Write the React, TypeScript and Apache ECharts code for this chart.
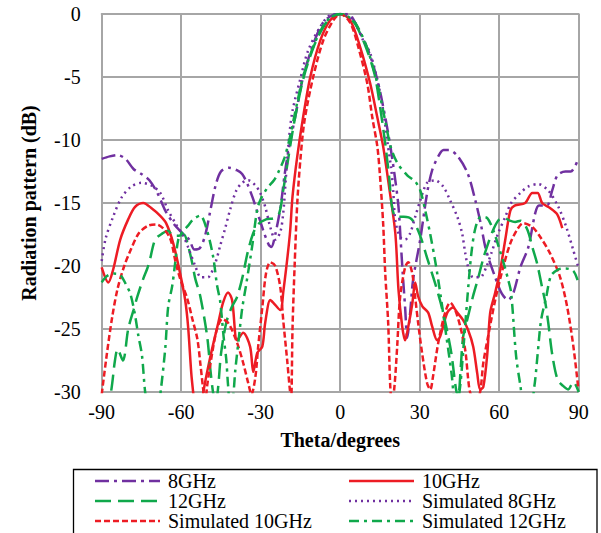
import React, { useEffect, useRef } from "react";
import * as echarts from "echarts";

const FONT = "'Liberation Serif', 'Times New Roman', serif";
const PURPLE = "#7030A0";
const RED = "#ED1C24";
const GREEN = "#10A84B";

const xTicks = [-90, -60, -30, 0, 30, 60, 90];
const yTicks = [0, -5, -10, -15, -20, -25, -30];

// [theta (deg), level (dB)]
const meas8: number[][] = [
  [-90, -11.5], [-87, -11.3], [-84, -11.2], [-81, -11.5], [-78, -12.3], [-75, -12.7], [-72, -13.2],
  [-69, -14.2], [-66, -15.6], [-63, -16.6], [-60, -17.3], [-57, -17.9], [-55, -18.7], [-53, -18.6],
  [-51, -17.6], [-49, -15.6], [-47, -13.6], [-45, -12.5], [-42, -12.2], [-39, -12.4], [-37, -12.7],
  [-35, -13.5], [-33, -14.6], [-31, -15.9], [-29, -17.2], [-27, -18.3], [-26, -18.5], [-24.5, -17.5],
  [-22.5, -15.3], [-21, -12.8], [-19.5, -10.8], [-17, -8.2], [-14, -5.0], [-10, -2.3], [-6.5, -0.7],
  [-3, -0.1], [0, 0], [2, 0], [4, -0.1], [7.5, -1.5], [10.6, -2.9], [14, -5.2], [17, -8.2], [19, -10.6],
  [20.8, -13.2], [22, -15.3], [22.8, -17.9], [23.6, -20.6], [24.5, -23.3], [25.3, -25.7], [26.4, -23.7],
  [27.5, -21.1], [30.2, -17.9], [32.8, -14.2], [34.7, -12.4], [37, -11.3], [39, -10.8], [41, -10.8],
  [44, -11.2], [48, -12.6], [51, -14.8], [53, -16.6], [55, -18.7], [58.5, -20.9], [61, -22.2],
  [63.4, -22.7], [65, -22.3], [66, -21.7], [68, -20.1], [71, -18.5], [73.6, -15.8], [75, -15.2],
  [78, -15.2], [80, -14.0], [82, -12.8], [85, -12.5], [87, -12.5], [90, -11.4],
];

const meas10: number[][] = [
  [-90, -20.1], [-87.5, -21.3], [-85.7, -20.3], [-83, -17.9], [-80, -16.3], [-77.4, -15.3], [-74.3, -15.0],
  [-71.3, -15.4], [-68, -16.0], [-65.7, -16.6], [-63, -18.2], [-60.4, -20.6], [-58.5, -22.7], [-57.4, -24.8],
  [-56.2, -28.5], [-55.5, -30], [-54, -33], [-52.5, -32], [-51.7, -30.1], [-49, -27.2], [-46, -24.5],
  [-44.2, -22.9], [-42.3, -22.1], [-40.8, -22.7], [-38.9, -25.9], [-36.6, -25.3], [-34, -26.4],
  [-32.8, -28.4], [-31.3, -26.9], [-29.4, -26.4], [-28.3, -24.5], [-26.4, -22.7], [-25.3, -22.9],
  [-22.6, -23.5], [-21.5, -22.1], [-19, -17.5], [-18, -14.5], [-16.2, -11.3], [-14, -8.2], [-11.3, -5],
  [-7.5, -2.1], [-3.8, -0.5], [0, 0], [3.8, -0.5], [7.5, -2.6], [11.3, -5.5], [14, -8.2], [16.2, -10.5],
  [18.5, -13.8], [20.8, -17.4], [22, -21.9], [23.4, -24.8], [24.5, -25.9], [25.7, -24.8], [27.2, -23],
  [28.3, -21.3], [29.4, -22.4], [31, -23.2], [33.2, -23.7], [34.7, -24.8], [36.6, -25.9], [37.7, -25.6],
  [40.4, -23.7], [42.6, -23.3], [44.2, -23.7], [46.4, -24.3], [48.3, -25.1], [50.2, -26.4], [51.7, -28.5],
  [52.8, -29.8], [54, -29.6], [55.5, -27], [56.6, -23.7], [58.5, -22.1], [60.4, -20.3], [62.3, -17.9],
  [64.2, -15.6], [65.8, -15.2], [69.8, -15.0], [72.5, -14.2], [74.5, -14.2], [76.2, -15], [79.2, -15.4],
  [81.9, -15.9], [83.8, -17.0],
];

const meas12: number[][] = [
  [-90, -31.5], [-88, -31], [-86.5, -30], [-85, -27.5], [-84, -26.6], [-82, -27.5], [-80, -25],
  [-78, -23.5], [-76.5, -22.4], [-74.3, -21], [-72.8, -20.2], [-71.7, -19.4], [-69.8, -17.9],
  [-67, -17.4], [-65, -17.2], [-63, -17.6], [-61, -17.6], [-59, -17.5], [-57.4, -18.4], [-55.8, -19.8],
  [-54.7, -21], [-52.8, -22.4], [-50.2, -25.6], [-49, -28.2], [-48, -30], [-47, -31], [-46, -29.5],
  [-45, -27], [-43, -24.5], [-41, -23.3], [-39, -22.5], [-37, -21], [-35, -19], [-33, -17.5],
  [-31, -16.7], [-28, -16.3], [-25, -16.2], [-23, -15.8], [-21.5, -14], [-20, -12], [-18.5, -10],
  [-17, -8.2], [-14, -5.2], [-10, -2.6], [-6, -0.9], [-3, -0.2], [0, 0], [3, -0.2], [6, -0.9],
  [10, -2.8], [13, -4.8], [15, -7.3], [17, -10.3], [18.5, -13], [19.5, -15.2], [21, -16.1], [24, -16.1],
  [27, -16.3], [30, -17.5], [33, -19.5], [36, -21.5], [38, -23], [40, -24.8], [42, -27], [43.5, -29.5],
  [44.5, -30.5], [45.5, -28], [46.4, -25.6], [48, -24.2], [50, -22.5], [52, -21], [54, -19.4],
  [56, -18.1], [58, -17], [60, -16.3], [62, -16.2], [64, -16.4], [66, -16.5], [68, -16.4], [70.6, -17.1],
  [72.5, -18.5], [74.3, -19.8], [76.2, -21.7], [77.4, -22.9], [78.5, -24.5], [80, -27], [82, -29],
  [84, -29.5], [86, -29.8], [88, -29.2], [90, -30],
];

const sim8: number[][] = [
  [-90, -19.6], [-88.5, -17.8], [-85.7, -16.1], [-82.6, -14.6], [-78.9, -13.7], [-75, -13.4],
  [-71.3, -13.6], [-67.9, -14.2], [-64.9, -15.6], [-61.9, -16.7], [-59.2, -17.6], [-57.4, -18.5],
  [-54.7, -20.0], [-52.5, -20.9], [-50, -20.9], [-47.2, -19.8], [-45.3, -18.4], [-43.4, -17.0],
  [-41.5, -15.5], [-39.2, -14.0], [-37, -13.4], [-34.7, -13.2], [-32, -13.6], [-30.2, -14.2],
  [-28.3, -15.3], [-26.4, -16.9], [-24.5, -17.9], [-22.6, -17.3], [-21.5, -15.8], [-20.5, -13],
  [-19.6, -10.5], [-18.1, -7.8], [-15.1, -5.2], [-12.1, -2.9], [-7.5, -1.0], [-3.8, -0.1], [1, 0],
  [5, -0.5], [8.7, -2.1], [11.3, -3.1], [14.3, -5.5], [16.2, -7.6], [17.7, -10], [19.2, -12.2],
  [20, -14], [20.8, -16.4], [22.6, -17.7], [24.5, -17.9], [26.4, -17.4], [28.3, -16.1], [30.2, -14.8],
  [32.8, -13.4], [35.8, -13.2], [38.9, -13.7], [41.5, -14.8], [44.2, -16.1], [46, -17.4], [47.2, -19],
  [48.3, -20.1], [50.2, -20.9], [52.8, -20.9], [55.1, -20.1], [57, -19], [59.6, -17.4], [62.3, -16.1],
  [64.5, -15], [68, -14.2], [70.9, -13.7], [74.7, -13.5], [78.5, -14], [82.3, -15.3], [85.3, -16.9],
  [87.9, -18.7], [90, -20.2],
];

const sim10: number[][] = [
  [-90, -30.2], [-88, -26.9], [-86, -24], [-84, -21.8], [-81.5, -20], [-79, -18.7], [-76, -17.4],
  [-72.5, -16.8], [-69.4, -16.7], [-66.4, -17.1], [-64, -17.9], [-62, -19.8], [-60.4, -21],
  [-57.7, -22.6], [-55.8, -24.2], [-53.9, -25.8], [-52.8, -27.7], [-51.7, -29.8], [-51, -31],
  [-50.2, -29.5], [-48.3, -26.9], [-46.5, -25], [-44.5, -24.2], [-42, -24.6], [-38.9, -26.1],
  [-36.6, -27.7], [-34.7, -29.3], [-33.5, -30.2], [-32, -28.8], [-31, -26.5], [-29.4, -23.3],
  [-28, -20.6], [-26.4, -19.7], [-24.5, -20.0], [-22.6, -21.7], [-21.5, -24.3], [-20, -27.5],
  [-19, -29.8], [-18.5, -30.5], [-18, -25], [-17.2, -20], [-16.2, -15], [-15, -11.5], [-13.5, -8.5],
  [-10.2, -5], [-6.4, -2.1], [-2.6, -0.5], [0, 0], [3.8, -0.7], [6.8, -2.6], [10.2, -5.5], [12.1, -8.2],
  [14, -10.5], [15, -12.8], [16.2, -16.6], [17, -20.6], [18.1, -24.5], [18.9, -29.6], [19.6, -31],
  [20.5, -29.5], [21.5, -26.4], [22.6, -22.5], [24.5, -20.1], [25.7, -19.7], [27.2, -20.6], [28.3, -22.5],
  [29.4, -24.5], [30.9, -26.9], [32.8, -29.3], [34, -29.8], [35, -28.8], [37, -26.1], [39.6, -23.7],
  [41.5, -22.9], [43.4, -23.5], [45.3, -24.8], [47.2, -26.7], [48.3, -29], [49, -30], [51, -31],
  [52.8, -30], [54, -27.7], [55.8, -25.6], [58.5, -22.7], [61.5, -20.1], [64.2, -18.2], [66.8, -17.1],
  [69, -16.6], [72.5, -16.9], [75.5, -17.7], [79.2, -19], [83, -20.9], [85.7, -23.3], [88, -26.4],
  [89.8, -29.6],
];

const sim12: number[][] = [
  [-90, -21.3], [-88, -20.8], [-85.5, -20.6], [-83, -20.7], [-81, -21.4], [-79.2, -22.2], [-77.5, -23.8],
  [-76.2, -25.5], [-74.8, -27.1], [-73.6, -30], [-72, -32], [-70, -32], [-68.5, -31], [-67.6, -29.7],
  [-66, -26.5], [-64.9, -23.2], [-63.4, -21.6], [-62.3, -19.8], [-61.1, -17.9], [-59.6, -17.3],
  [-57.4, -16.8], [-55.5, -16.3], [-52.8, -16.0], [-50.5, -17], [-48, -19.2], [-46.5, -21.5],
  [-45.3, -22.8], [-44, -25.6], [-43, -27.4], [-42.3, -29.5], [-41.5, -31], [-40.5, -30.5],
  [-39.6, -28.3], [-38.3, -25.8], [-37, -23.4], [-35.5, -21.5], [-33.2, -18.4], [-31.3, -15.5],
  [-30, -14.7], [-27.5, -13.8], [-25, -13.2], [-23, -12.4], [-21, -11.4], [-19, -9.8], [-17, -7.8],
  [-14, -5.0], [-10, -2.5], [-6, -0.8], [-3, -0.2], [0, 0], [3, -0.2], [6, -0.8], [10, -2.6], [14, -5.5],
  [17, -8.5], [19, -10.5], [21.5, -11.8], [25.3, -12.8], [28.3, -13.3], [30.2, -14], [32, -15.5],
  [34, -17.5], [36, -19.8], [38, -22.5], [40, -25.5], [42, -28.5], [43.5, -31], [45, -30], [46.5, -26.5],
  [48, -22.5], [49.5, -19], [51, -17], [53, -16.1], [55.5, -16.2], [58, -17.3], [60, -18.6], [62, -20],
  [63.4, -21.1], [64.5, -22.1], [66.4, -27.2], [68, -29.5], [69.5, -31.5], [71.5, -31.5], [73.3, -29.5],
  [74.5, -27], [75.8, -24.3], [77.7, -22.5], [79.5, -20.8], [82, -20.3], [85, -20.2], [88, -20.4],
  [90, -21.4],
];

const seriesDefs = [
  { name: "8GHz", data: meas8, color: PURPLE, dash: [14, 5, 3, 5] },
  { name: "10GHz", data: meas10, color: RED, dash: null as number[] | null },
  { name: "12GHz", data: meas12, color: GREEN, dash: [16, 7] },
  { name: "Simulated 8GHz", data: sim8, color: PURPLE, dash: [2, 4] },
  { name: "Simulated 10GHz", data: sim10, color: RED, dash: [6, 3] },
  { name: "Simulated 12GHz", data: sim12, color: GREEN, dash: [10, 5, 3, 5] },
];

const GRIDC = "#a6a6a6";

export default function App() {
  const ref = useRef<HTMLDivElement>(null);
  useEffect(() => {
    document.body.style.margin = "0";
    if (!ref.current) return;
    const chart = echarts.init(ref.current, undefined, { renderer: "svg" });

    // manual legend (two columns, three rows)
    const colX = [95, 349];
    const rowY = [481, 501, 521];
    const legendEls: any[] = [];
    seriesDefs.forEach((s, i) => {
      const x0 = colX[i % 2];
      const y0 = rowY[Math.floor(i / 2)];
      legendEls.push({
        type: "line",
        shape: { x1: x0, y1: y0, x2: x0 + 65, y2: y0 },
        style: { stroke: s.color, lineWidth: 2.5, lineDash: s.dash || undefined },
        silent: true,
      });
      legendEls.push({
        type: "text",
        x: x0 + 73,
        y: y0,
        style: {
          text: s.name,
          fontFamily: FONT,
          fontSize: 20,
          fill: "#000",
          verticalAlign: "middle",
          align: "left",
        },
        silent: true,
      });
    });

    chart.setOption({
      animation: false,
      backgroundColor: "#fff",
      grid: { left: 101.7, right: 22.3, top: 14, bottom: 141 },
      xAxis: {
        type: "value",
        min: xTicks[0],
        max: xTicks[xTicks.length - 1],
        interval: 30,
        name: "Theta/degrees",
        nameLocation: "middle",
        nameGap: 38,
        nameTextStyle: { fontFamily: FONT, fontSize: 20, fontWeight: "bold", color: "#000" },
        axisLine: { lineStyle: { color: GRIDC, width: 2 } },
        axisTick: { show: true, length: 5, lineStyle: { color: GRIDC, width: 2 } },
        axisLabel: { fontFamily: FONT, fontSize: 20, color: "#000", margin: 10 },
        splitLine: { show: true, lineStyle: { color: GRIDC, width: 2 } },
      },
      yAxis: {
        type: "value",
        min: yTicks[yTicks.length - 1],
        max: yTicks[0],
        interval: 5,
        name: "Radiation pattern (dB)",
        nameLocation: "middle",
        nameGap: 63,
        nameTextStyle: { fontFamily: FONT, fontSize: 20, fontWeight: "bold", color: "#000" },
        axisLine: { show: true, lineStyle: { color: GRIDC, width: 2 } },
        axisTick: { show: true, length: 5, lineStyle: { color: GRIDC, width: 2 } },
        axisLabel: { fontFamily: FONT, fontSize: 20, color: "#000", margin: 21 },
        splitLine: { show: true, lineStyle: { color: GRIDC, width: 2 } },
      },
      graphic: [
        {
          type: "rect",
          shape: { x: 73.5, y: 469.5, width: 523.5, height: 90 },
          style: { fill: "none", stroke: "#000", lineWidth: 1.3 },
          silent: true,
        },
        ...legendEls,
      ],
      series: seriesDefs.map((s) => ({
        name: s.name,
        type: "line",
        data: s.data,
        symbol: "none",
        smooth: 0.3,
        color: s.color,
        lineStyle: { color: s.color, width: 2.5, type: s.dash ? s.dash : "solid" },
        clip: true,
      })),
    });
    return () => chart.dispose();
  }, []);
  return <div ref={ref} style={{ width: 601, height: 533 }} />;
}
